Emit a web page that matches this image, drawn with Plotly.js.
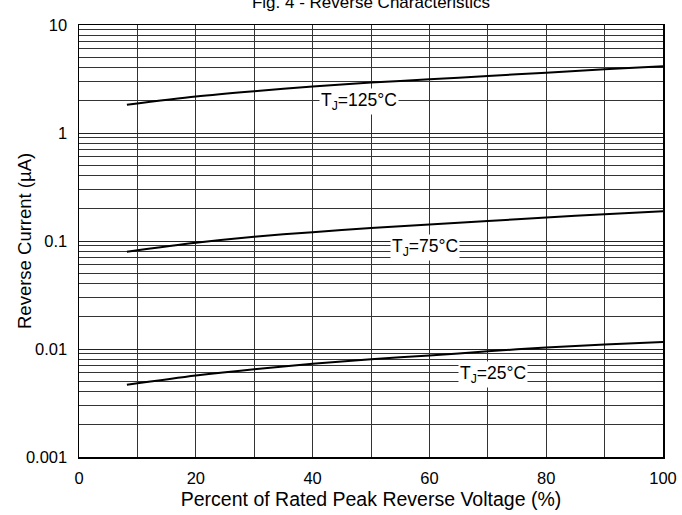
<!DOCTYPE html>
<html>
<head>
<meta charset="utf-8">
<script src="https://cdn.plot.ly/plotly-3.0.1.min.js"></script>
<style>html,body{margin:0;padding:0;background:#fff;}#chart{width:682px;height:515px;}</style>
</head>
<body>
<div id="chart"></div>
<script>
const xVals = [8.2, 20, 30, 40, 50, 60, 70, 80, 90, 100];
const tj125 = [1.83, 2.18, 2.44, 2.69, 2.93, 3.14, 3.37, 3.62, 3.90, 4.16];
const tj75 = [0.0795, 0.0962, 0.1094, 0.1208, 0.1316, 0.1423, 0.1528, 0.1652, 0.1772, 0.1889];
const tj25 = [0.00466, 0.00568, 0.00651, 0.00729, 0.00805, 0.00869, 0.00954, 0.0103, 0.0110, 0.01164];
const seriesNames = ['T<sub>J</sub>=125°C', 'T<sub>J</sub>=75°C', 'T<sub>J</sub>=25°C'];
const labelX = [48, 59.2, 70.9];
const labelY = [1.96, 0.0879, 0.0058];
const xTickVals = [0, 20, 40, 60, 80, 100];
const yTickVals = [0.001, 0.01, 0.1, 1, 10];
const yTickText = ['0.001', '0.01', '0.1', '1', '10'];
const yTitle = 'Reverse Current (µA)';

const font = {family: 'Liberation Sans, Arial, sans-serif', color: '#000'};
const series = [tj125, tj75, tj25];
const traces = series.map((s, i) => ({
  x: xVals, y: s, type: 'scatter', mode: 'lines', name: seriesNames[i],
  line: {color: '#000', width: 2, shape: 'spline', smoothing: 0.8}, hoverinfo: 'skip'
}));

const annotations = seriesNames.map((t, i) => ({
  x: labelX[i], y: Math.log10(labelY[i]), xref: 'x', yref: 'y', text: t,
  showarrow: false, bgcolor: '#fff', font: {...font, size: 17.5}, borderpad: 1
}));
annotations.push({
  x: 0, xref: 'paper', xanchor: 'center', xshift: -55, y: 0.5, yref: 'paper', yanchor: 'middle',
  text: yTitle, textangle: -90, showarrow: false, font: {...font, size: 18.5}
});

const layout = {
  width: 682, height: 515,
  margin: {l: 79, r: 19, t: 25, b: 58},
  paper_bgcolor: '#fff', plot_bgcolor: '#fff',
  showlegend: false,
  font: {...font, size: 16},
  title: {text: 'Fig. 4 - Reverse Characteristics', x: 0.5, xref: 'paper', y: 0.997, yanchor: 'middle', font: {...font, size: 17}},
  xaxis: {
    range: [0, 100], tickvals: xTickVals, showgrid: true, gridcolor: '#333', gridwidth: 1,
    minor: {dtick: 10, showgrid: true, gridcolor: '#333', gridwidth: 1},
    showline: true, linecolor: '#000', linewidth: 1.5, mirror: true,
    ticks: '', ticklabelstandoff: 6, zeroline: false,
    tickfont: {...font, size: 16.5},
    title: {text: 'Percent of Rated Peak Reverse Voltage (%)', font: {...font, size: 19.5}, standoff: 6}
  },
  yaxis: {
    type: 'log', range: [-3, 1], tickvals: yTickVals, ticktext: yTickText,
    showgrid: true, gridcolor: '#222', gridwidth: 1,
    minor: {dtick: 'D1', showgrid: true, gridcolor: '#333', gridwidth: 1},
    showline: true, linecolor: '#000', linewidth: 1.5, mirror: true,
    ticks: '', ticklabelstandoff: 7, zeroline: false,
    tickfont: {...font, size: 16.5}
  },
  annotations: annotations
};

Plotly.newPlot('chart', traces, layout, {staticPlot: true, displayModeBar: false});
</script>
</body>
</html>
